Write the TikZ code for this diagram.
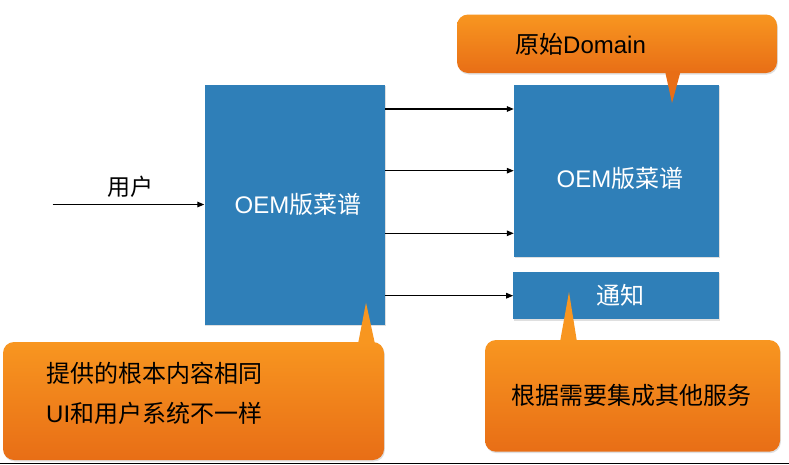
\documentclass[tikz,border=0pt]{standalone}
\usepackage{fontspec}
\setmainfont{Noto Sans CJK SC}
\newfontfamily\latinfont{Liberation Sans}
\usetikzlibrary{arrows.meta,shadows}
\definecolor{boxblue}{RGB}{47,127,184}
\definecolor{ortop}{RGB}{248,150,32}
\definecolor{orbot}{RGB}{232,110,22}
\tikzset{
  bluebox/.style={draw=none,fill=boxblue,inner sep=0pt,text=white,
    drop shadow={opacity=0.25,shadow xshift=0.8pt,shadow yshift=-1.2pt}},
  boxtext/.style={text=white,font=\fontsize{24}{28}\selectfont,inner sep=0pt},
  callout/.style={draw=none,rounded corners=11pt,top color=ortop,bottom color=orbot,
    inner sep=0pt,
    drop shadow={opacity=0.25,shadow xshift=0.8pt,shadow yshift=-1.5pt}},
  ctext/.style={font=\fontsize{24}{28}\selectfont,text=black,inner sep=0pt,anchor=west},
  conn/.style={line width=1.3pt,-{Triangle[length=7pt,width=5.5pt]}},
}
\begin{document}
\begin{tikzpicture}[x=1pt,y=-1pt]
\useasboundingbox (0,0) rectangle (789,464);
\fill[white] (0,0) rectangle (789,464);
% blue boxes
\node[bluebox,minimum width=180.5pt,minimum height=240.5pt] (L) at (294.75,204.75) {};
\node[boxtext] (Lt) at (298,204.5) {{\latinfont OEM}版菜谱};
\node[bluebox,minimum width=205pt,minimum height=172.5pt] (R) at (616.5,170.75) {};
\node[boxtext] (Rt) at (620,178.3) {{\latinfont OEM}版菜谱};
\node[bluebox,minimum width=206pt,minimum height=47.6pt] (N) at (616.4,295.5) {};
\node[boxtext] (Nt) at (620.5,295.5) {通知};
% input
\coordinate (in) at (52.7,204.5);
\draw[conn] (in) -- (L.west |- in);
\node[font=\fontsize{23}{27}\selectfont,inner sep=0pt] (user) at (130,187) {用户};
% connectors
\foreach \yy [count=\i] in {109,170.7,233.3} {
  \coordinate (a\i) at (0,\yy);
  \draw[conn] (L.east |- a\i) -- (R.west |- a\i);
}
\coordinate (a4) at (0,295.7);
\draw[conn] (L.east |- a4) -- (N.west |- a4);
% callouts
\node[callout,minimum width=320pt,minimum height=58.5pt] (T) at (617,43.75) {};
\fill[orbot] (665,71) -- (672,103) -- (680.7,71) -- cycle;
\node[ctext] (Tt) at (515,44) {原始{\latinfont Domain}};
\node[callout,minimum width=381pt,minimum height=118pt] (BL) at (193.5,401) {};
\fill[ortop] (358,344) -- (366,302.7) -- (375,344) -- cycle;
\node[ctext] (BLt1) at (46,373) {提供的根本内容相同};
\node[ctext] (BLt2) at (46,413) {{\latinfont UI}和用户系统不一样};
\node[callout,minimum width=295pt,minimum height=111.7pt] (BR) at (632.5,395.85) {};
\fill[ortop] (560,342) -- (569,292) -- (577,342) -- cycle;
\node[font=\fontsize{24}{28}\selectfont,inner sep=0pt] (BRt) at (631,395) {根据需要集成其他服务};
% bottom rule
\draw[line width=1pt] (0,463.3) -- (789,463.3);
\end{tikzpicture}
\end{document}
